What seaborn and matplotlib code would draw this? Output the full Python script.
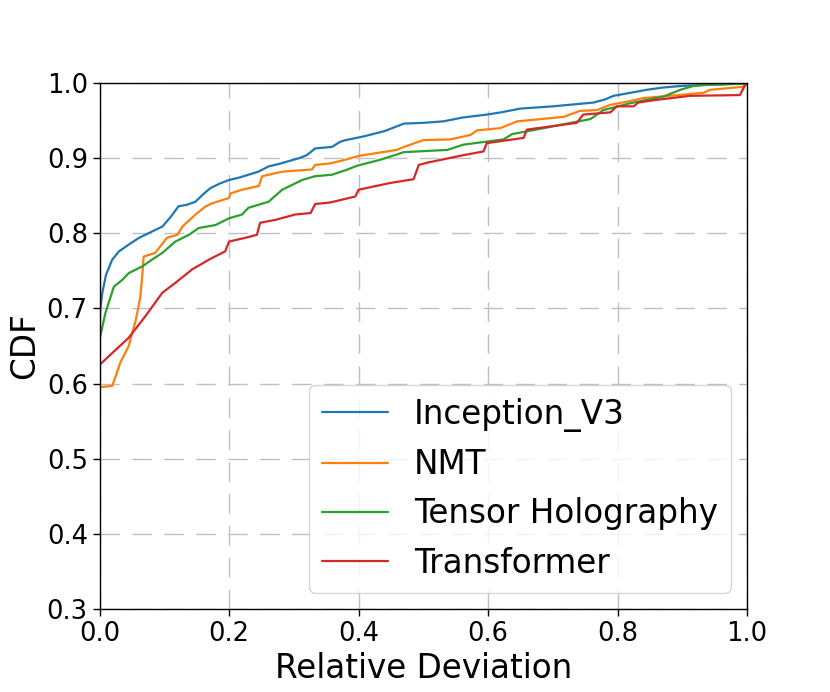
import pandas as pd
import seaborn as sns
import matplotlib
matplotlib.use("Agg")
import matplotlib.pyplot as plt

# 读图估计的 CDF 曲线数据
inception_x = [0, 0.004, 0.01, 0.0195, 0.03, 0.045, 0.061, 0.08, 0.097, 0.11, 0.122, 0.135,
               0.148, 0.16, 0.171, 0.185, 0.2, 0.215, 0.23, 0.245, 0.261, 0.28, 0.308, 0.32,
               0.333, 0.359, 0.372, 0.38, 0.408, 0.44, 0.47, 0.5, 0.531, 0.56, 0.598, 0.62,
               0.65, 0.7, 0.763, 0.78, 0.794, 0.82, 0.845, 0.87, 0.897, 0.92, 0.96, 1.0]
inception_y = [0.69, 0.72, 0.745, 0.765, 0.776, 0.785, 0.794, 0.802, 0.809, 0.822, 0.836, 0.838,
               0.842, 0.852, 0.860, 0.866, 0.871, 0.874, 0.878, 0.882, 0.889, 0.893, 0.900, 0.904,
               0.913, 0.915, 0.922, 0.924, 0.929, 0.936, 0.946, 0.947, 0.949, 0.954, 0.958, 0.961,
               0.966, 0.969, 0.974, 0.978, 0.983, 0.987, 0.991, 0.994, 0.996, 0.997, 0.998, 1.0]

nmt_x = [0, 0.0195, 0.025, 0.032, 0.045, 0.056, 0.063, 0.066, 0.068, 0.086, 0.104, 0.12,
         0.128, 0.148, 0.164, 0.174, 0.2, 0.202, 0.22, 0.246, 0.251, 0.282, 0.328, 0.333,
         0.356, 0.38, 0.4, 0.459, 0.47, 0.5, 0.542, 0.573, 0.583, 0.619, 0.645, 0.717,
         0.742, 0.768, 0.789, 0.819, 0.84, 0.933, 0.943, 0.994, 1.0]
nmt_y = [0.595, 0.597, 0.61, 0.628, 0.65, 0.685, 0.716, 0.745, 0.769, 0.774, 0.794, 0.798,
         0.809, 0.825, 0.836, 0.840, 0.847, 0.853, 0.858, 0.863, 0.876, 0.882, 0.885, 0.891,
         0.893, 0.898, 0.903, 0.911, 0.915, 0.924, 0.925, 0.931, 0.937, 0.940, 0.949, 0.955,
         0.963, 0.964, 0.971, 0.976, 0.980, 0.987, 0.991, 0.995, 1.0]

holo_x = [0, 0.009, 0.022, 0.035, 0.045, 0.066, 0.081, 0.097, 0.117, 0.138, 0.153, 0.179,
          0.2, 0.22, 0.23, 0.261, 0.282, 0.313, 0.333, 0.359, 0.38, 0.398, 0.434, 0.47,
          0.537, 0.562, 0.624, 0.637, 0.686, 0.758, 0.778, 0.819, 0.871, 0.897, 0.917, 0.94, 1.0]
holo_y = [0.659, 0.694, 0.729, 0.738, 0.747, 0.756, 0.765, 0.774, 0.789, 0.798, 0.807, 0.811,
          0.820, 0.825, 0.834, 0.842, 0.858, 0.871, 0.876, 0.878, 0.884, 0.890, 0.898, 0.908,
          0.911, 0.918, 0.925, 0.932, 0.940, 0.952, 0.964, 0.973, 0.982, 0.991, 0.996, 0.998, 0.999]

trans_x = [0, 0.025, 0.045, 0.071, 0.097, 0.117, 0.143, 0.169, 0.194, 0.2, 0.225, 0.243,
           0.248, 0.272, 0.302, 0.326, 0.333, 0.356, 0.395, 0.4, 0.449, 0.485, 0.493, 0.506,
           0.562, 0.593, 0.598, 0.655, 0.66, 0.737, 0.747, 0.789, 0.799, 0.825, 0.832, 0.855,
           0.912, 0.989, 0.997, 1.0]
trans_y = [0.625, 0.645, 0.661, 0.690, 0.721, 0.734, 0.752, 0.765, 0.776, 0.789, 0.794, 0.798,
           0.814, 0.818, 0.825, 0.827, 0.839, 0.841, 0.849, 0.858, 0.867, 0.872, 0.891, 0.894,
           0.904, 0.909, 0.920, 0.927, 0.938, 0.947, 0.958, 0.961, 0.969, 0.969, 0.974, 0.977,
           0.983, 0.984, 0.997, 1.0]

names = ["Inception_V3", "NMT", "Tensor Holography", "Transformer"]
colors = ["#1f77b4", "#ff7f0e", "#2ca02c", "#d62728"]

frames = []
for name, xs, ys in zip(names,
                        [inception_x, nmt_x, holo_x, trans_x],
                        [inception_y, nmt_y, holo_y, trans_y]):
    frames.append(pd.DataFrame({"x": xs, "cdf": ys, "model": name}))
df = pd.concat(frames, ignore_index=True)

sns.set_style("white")
plt.rcParams['font.family'] = ['DejaVu Sans']
plt.rcParams['text.color'] = 'black'
plt.rcParams['axes.labelcolor'] = 'black'
plt.rcParams['xtick.color'] = 'black'
plt.rcParams['ytick.color'] = 'black'

fig = plt.figure(figsize=(8.3, 6.92), dpi=100)
ax = fig.add_axes([0.12, 0.12, 0.78, 0.76])

sns.lineplot(data=df, x="x", y="cdf", hue="model", hue_order=names,
             palette=colors, estimator=None, sort=True, linewidth=1.6, ax=ax)

ax.set_xlim(0, 1)
ax.set_ylim(0.3, 1.0)
ax.set_xticks([0, 0.2, 0.4, 0.6, 0.8, 1.0])
ax.set_yticks([0.3, 0.4, 0.5, 0.6, 0.7, 0.8, 0.9, 1.0])
ax.grid(True, color="#c0c0c0", linestyle=(0, (14, 9)), linewidth=1.0)
ax.set_axisbelow(True)

for sp in ax.spines.values():
    sp.set_color("black")
    sp.set_linewidth(1.0)

ax.tick_params(axis="both", direction="out", length=5, width=1, labelsize=18.5,
               bottom=True, left=True, colors="black")
ax.set_xlabel("Relative Deviation", fontsize=23.5, color="black")
ax.set_ylabel("CDF", fontsize=23.5, color="black")

leg = ax.legend(loc="lower right", fontsize=23.5, title=None)
leg.get_frame().set_edgecolor("#cccccc")
for t in leg.get_texts():
    t.set_color("black")

fig.savefig("out.png", dpi=100)
